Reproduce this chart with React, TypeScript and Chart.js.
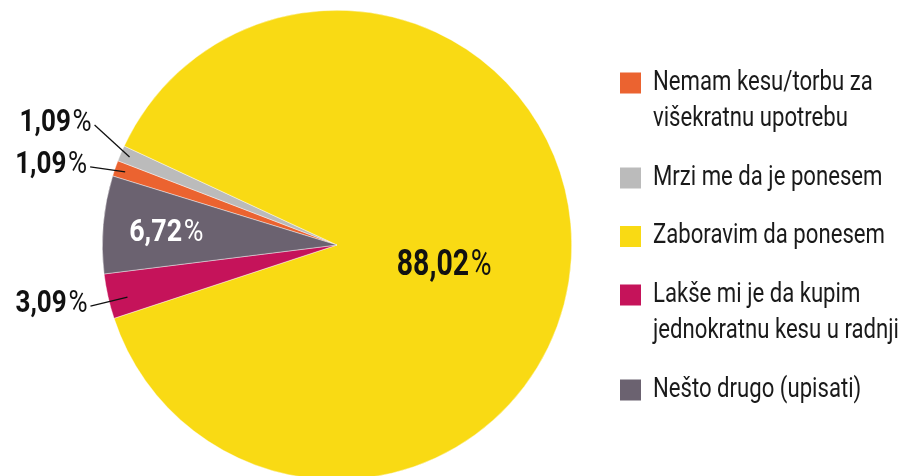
import React, { useEffect, useRef } from "react";
import { Chart, registerables } from "chart.js";

Chart.register(...registerables);

const categories = [
  "Nemam kesu/torbu za višekratnu upotrebu",
  "Mrzi me da je ponesem",
  "Zaboravim da ponesem",
  "Lakše mi je da kupim jednokratnu kesu u radnji",
  "Nešto drugo (upisati)",
];
const legendLines = [
  ["Nemam kesu/torbu za", "višekratnu upotrebu"],
  ["Mrzi me da je ponesem"],
  ["Zaboravim da ponesem"],
  ["Lakše mi je da kupim", "jednokratnu kesu u radnji"],
  ["Nešto drugo (upisati)"],
];
const values = [1.09, 1.09, 88.02, 3.09, 6.72];
const valueLabels = ["1,09", "1,09", "88,02", "3,09", "6,72"];
const colors = ["#EB6330", "#BBBBBB", "#F9DA14", "#C5135A", "#6B6270"];

const FONT = "Roboto, 'Noto Sans', sans-serif";

function drawPct(
  ctx: CanvasRenderingContext2D,
  num: string,
  x: number,
  y: number,
  size: number,
  sx: number,
  align: "right" | "center",
  color: string
) {
  ctx.save();
  ctx.fillStyle = color;
  ctx.textBaseline = "middle";
  ctx.textAlign = "left";
  ctx.font = `bold ${size}px ${FONT}`;
  const wn = ctx.measureText(num).width;
  ctx.font = `${size}px ${FONT}`;
  const wp = ctx.measureText("%").width;
  const gap = 2;
  const total = (wn + gap + wp) * sx;
  const left = align === "right" ? x - total : x - total / 2;
  ctx.translate(left, y);
  ctx.scale(sx, 1);
  ctx.font = `bold ${size}px ${FONT}`;
  ctx.fillText(num, 0, 0);
  ctx.font = `${size}px ${FONT}`;
  ctx.fillText("%", wn + gap, 0);
  ctx.restore();
}

const labelPlugin = {
  id: "sliceLabels",
  afterDatasetsDraw(chart: any) {
    const ctx = chart.ctx as CanvasRenderingContext2D;
    const meta = chart.getDatasetMeta(0);
    const outside: Record<number, { r: number; f: number; dx: number; dy: number }> = {
      0: { r: 0.955, f: 0.5, dx: -35, dy: -5 },
      1: { r: 0.96, f: 0.5, dx: -35, dy: -32 },
      3: { r: 0.92, f: 0.38, dx: -37, dy: 9 },
    };
    meta.data.forEach((arc: any, i: number) => {
      const { x, y, startAngle, endAngle, outerRadius } = arc.getProps(
        ["x", "y", "startAngle", "endAngle", "outerRadius"],
        true
      );
      const mid = (startAngle + endAngle) / 2;
      if (outside[i]) {
        const o = outside[i];
        const ang = startAngle + (endAngle - startAngle) * o.f;
        const ex = x + Math.cos(ang) * outerRadius * o.r;
        const ey = y + Math.sin(ang) * outerRadius * o.r;
        const sx = ex + o.dx;
        const sy = ey + o.dy;
        ctx.save();
        ctx.strokeStyle = "#111";
        ctx.lineWidth = 1.3;
        ctx.beginPath();
        ctx.moveTo(sx, sy);
        ctx.lineTo(ex, ey);
        ctx.stroke();
        ctx.restore();
        drawPct(ctx, valueLabels[i], sx - 3, sy - 2, 31, 0.84, "right", "#111");
      } else if (i === 4) {
        const px = x + Math.cos(mid) * outerRadius * 0.73;
        const py = y + Math.sin(mid) * outerRadius * 0.73 + 3;
        drawPct(ctx, valueLabels[i], px, py, 32, 0.84, "center", "#ffffff");
      } else if (i === 2) {
        const a = (11 * Math.PI) / 180;
        const px = x + Math.cos(a) * outerRadius * 0.465;
        const py = y + Math.sin(a) * outerRadius * 0.465;
        drawPct(ctx, valueLabels[i], px, py, 36, 0.79, "center", "#111");
      }
    });
  },
};

const legendPlugin = {
  id: "customLegend",
  afterDraw(chart: any) {
    const ctx = chart.ctx as CanvasRenderingContext2D;
    const boxX = 620;
    const box = 21;
    const textX = 653;
    const lineH = 36.5;
    const itemGap = 58.5;
    const sx = 0.82;
    let y = 83;
    ctx.save();
    ctx.textBaseline = "middle";
    ctx.textAlign = "left";
    ctx.font = `27px ${FONT}`;
    legendLines.forEach((lines, i) => {
      ctx.fillStyle = colors[i];
      ctx.fillRect(boxX, y - box / 2, box, box);
      ctx.fillStyle = "#1a1a1a";
      lines.forEach((ln, j) => {
        ctx.save();
        ctx.translate(textX, y + j * lineH);
        ctx.scale(sx, 1);
        ctx.fillText(ln, 0, 0);
        ctx.restore();
      });
      y += (lines.length - 1) * lineH + itemGap;
    });
    ctx.restore();
  },
};

export default function App() {
  const ref = useRef<HTMLCanvasElement | null>(null);
  useEffect(() => {
    if (!ref.current) return;
    const chart = new Chart(ref.current, {
      type: "pie",
      data: {
        labels: categories,
        datasets: [
          {
            data: values,
            backgroundColor: colors,
            borderColor: "rgba(255,255,255,0.7)",
            borderWidth: 0.6,
          },
        ],
      },
      options: {
        responsive: false,
        animation: false,
        rotation: 287.1,
        layout: { padding: { left: 102, right: 336, top: 10, bottom: 10 } },
        plugins: {
          legend: { display: false },
          tooltip: { enabled: false },
        },
      },
      plugins: [labelPlugin, legendPlugin],
    });
    return () => chart.destroy();
  }, []);
  return (
    <div style={{ position: "fixed", left: 0, top: 0, width: 908, height: 476, overflow: "hidden", background: "#fff" }}>
      <canvas ref={ref} width={908} height={490} style={{ display: "block", width: 908, height: 490 }} />
    </div>
  );
}
